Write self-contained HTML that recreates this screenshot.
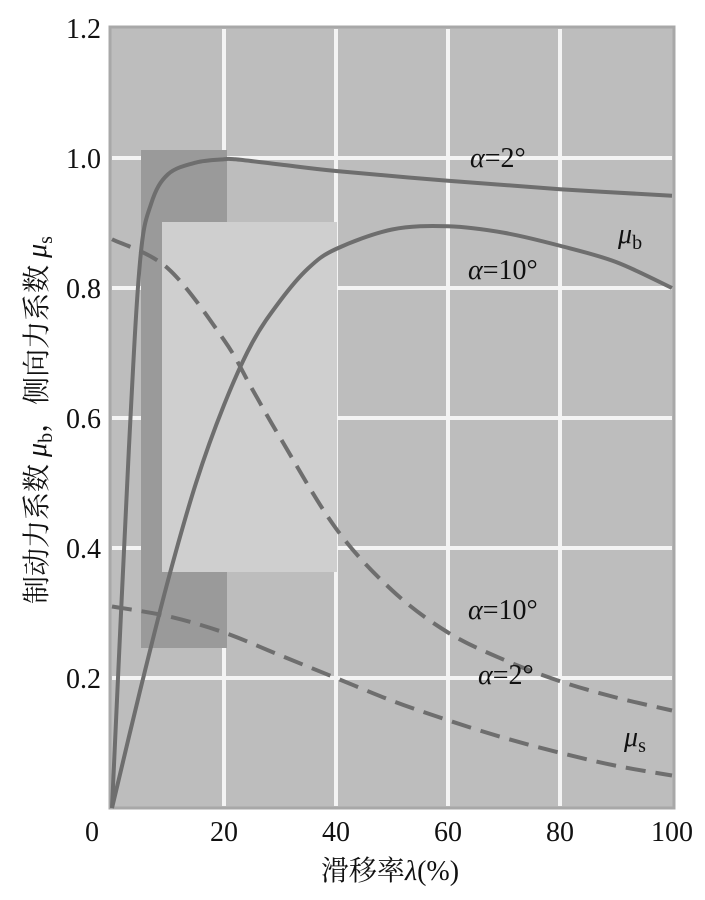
<!DOCTYPE html>
<html><head><meta charset="utf-8"><style>
body{margin:0;background:#fff;}
svg{display:block;}
text{font-family:"Liberation Serif","Noto Serif CJK SC",serif;fill:#111;}
</style></head><body>
<svg id="chart" width="705" height="900">
<rect x="110" y="27" width="564" height="781" fill="#bdbdbd" stroke="#a8a8a8" stroke-width="3"/>
<g id="grid"></g>
<rect x="141" y="150" width="86" height="72" fill="#9a9a9a"/>
<rect x="141" y="222" width="21" height="350" fill="#9a9a9a"/>
<rect x="141" y="572" width="86" height="76" fill="#9a9a9a"/>
<rect x="162" y="222" width="175" height="350" fill="#cfcfcf"/>
<g id="curves"></g>
<g id="ticks"></g>
<text x="470" y="167" font-size="28"><tspan font-style="italic">α</tspan>=2°</text>
<text x="618" y="243" font-size="28"><tspan font-style="italic">μ</tspan><tspan font-size="20" dy="6">b</tspan></text>
<text x="468" y="279" font-size="28"><tspan font-style="italic">α</tspan>=10°</text>
<text x="468" y="619" font-size="28"><tspan font-style="italic">α</tspan>=10°</text>
<text x="478" y="684" font-size="28"><tspan font-style="italic">α</tspan>=2°</text>
<text x="624" y="746" font-size="28"><tspan font-style="italic">μ</tspan><tspan font-size="20" dy="6">s</tspan></text>
<text x="390" y="880" font-size="28" text-anchor="middle">滑移率<tspan font-style="italic">λ</tspan>(%)</text>
<text transform="translate(46,420) rotate(-90)" font-size="28" text-anchor="middle">制动力系数 <tspan font-style="italic">μ</tspan><tspan font-size="20" dy="6">b</tspan><tspan dy="-6">，侧向力系数 </tspan><tspan font-style="italic">μ</tspan><tspan font-size="20" dy="6">s</tspan></text>
</svg>
<script>
const xTicks=[0,20,40,60,80,100];
const yTicks=[0.2,0.4,0.6,0.8,1.0,1.2];
const yTickLabels=["0.2","0.4","0.6","0.8","1.0","1.2"];
const mubA2X=[0,3,5,7,10,15,20,22,30,40,60,80,100];
const mubA2Y=[0,0.55,0.84,0.93,0.975,0.993,0.998,0.998,0.99,0.98,0.965,0.952,0.942];
const mubA10X=[0,5,10,15,20,25,30,35,40,50,60,70,80,90,100];
const mubA10Y=[0,0.18,0.35,0.5,0.62,0.715,0.78,0.83,0.86,0.89,0.895,0.885,0.865,0.84,0.80];
const musA10X=[0,10,20,25,30,40,50,60,70,80,90,100];
const musA10Y=[0.875,0.83,0.72,0.645,0.57,0.43,0.335,0.27,0.228,0.195,0.17,0.15];
const musA2X=[0,10,20,30,40,50,60,70,80,90,100];
const musA2Y=[0.31,0.295,0.27,0.235,0.2,0.165,0.135,0.108,0.085,0.065,0.05];
const sx=v=>112+v*5.6;
const sy=v=>808-v*650;
const NS="http://www.w3.org/2000/svg";
const grid=document.getElementById('grid'),ticks=document.getElementById('ticks'),curves=document.getElementById('curves');
xTicks.forEach(t=>{
  if(t>0&&t<100){const l=document.createElementNS(NS,'line');
  
  
  l.setAttribute('x1',sx(t));l.setAttribute('x2',sx(t));l.setAttribute('y1',29);l.setAttribute('y2',806);
  l.setAttribute('stroke','#f4f4f4');l.setAttribute('stroke-width','4');grid.appendChild(l);}
  const tx=document.createElementNS(NS,'text');
  
  
  tx.setAttribute('x',t===0?92:sx(t));tx.setAttribute('y',841);tx.setAttribute('font-size','28');tx.setAttribute('text-anchor','middle');
  tx.textContent=t;ticks.appendChild(tx);
});
yTicks.forEach((t,i)=>{
  if(t<1.2){const l=document.createElementNS(NS,'line');
  
  
  l.setAttribute('x1',112);l.setAttribute('x2',672);l.setAttribute('y1',sy(t));l.setAttribute('y2',sy(t));
  l.setAttribute('stroke','#f4f4f4');l.setAttribute('stroke-width','4');grid.appendChild(l);}
  const tx=document.createElementNS(NS,'text');
  
  
  tx.setAttribute('x',101);tx.setAttribute('y',sy(t)+10);tx.setAttribute('font-size','28');tx.setAttribute('text-anchor','end');
  tx.textContent=yTickLabels[i];ticks.appendChild(tx);
});
function pathD(xs,ys){
  const p=xs.map((x,i)=>[sx(x),sy(ys[i])]);
  let d='M'+p[0][0]+','+p[0][1];
  for(let i=0;i<p.length-1;i++){
    const p0=p[i-1]||p[i],p1=p[i],p2=p[i+1],p3=p[i+2]||p2;
    const c1=[p1[0]+(p2[0]-p0[0])/6,p1[1]+(p2[1]-p0[1])/6];
    const c2=[p2[0]-(p3[0]-p1[0])/6,p2[1]-(p3[1]-p1[1])/6];
    d+=' C'+c1+' '+c2+' '+p2;
  }
  return d;
}
function addCurve(name,xs,ys,dash){
  const e=document.createElementNS(NS,'path');
  
  
  e.setAttribute('d',pathD(xs,ys));e.setAttribute('fill','none');e.setAttribute('stroke','#6e6e6e');e.setAttribute('stroke-width','4');
  if(dash)e.setAttribute('stroke-dasharray','20 10');
  curves.appendChild(e);
}
addCurve('mub-alpha2-line',mubA2X,mubA2Y,false);
addCurve('mub-alpha10-line',mubA10X,mubA10Y,false);
addCurve('mus-alpha10-line',musA10X,musA10Y,true);
addCurve('mus-alpha2-line',musA2X,musA2Y,true);
</script>
</body></html>
